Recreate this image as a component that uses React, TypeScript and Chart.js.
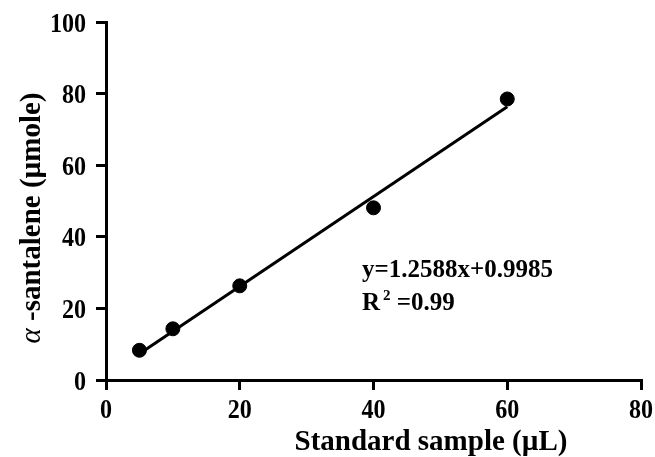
import React, { useEffect, useRef } from "react";
import { Chart, registerables } from "chart.js";

Chart.register(...registerables);

const sampleVolumes = [5, 10, 20, 40, 60];
const santaleneValues = [8.3, 14.3, 26.3, 48.1, 78.5];
const fitX = [5, 60];
const fitY = [7.3, 76.3];
const xTicks = [0, 20, 40, 60, 80];
const yTicks = [0, 20, 40, 60, 80, 100];
const equationText = "y=1.2588x+0.9985";
const r2Value = "=0.99";
const xTitle = "Standard sample (\u00b5L)";
const yTitleGreek = "\u03b1";
const yTitleRest = " -santalene (\u00b5mole)";

const FONT = "'Liberation Serif', 'Times New Roman', serif";
const TICK_SCALE = 0.86;

const textPlugin = {
  id: "texts",
  afterDraw(chart: any) {
    const ctx = chart.ctx;
    const xs = chart.scales.x;
    const ys = chart.scales.y;
    ctx.save();
    ctx.fillStyle = "#000";
    ctx.textBaseline = "alphabetic";
    // tick labels (condensed like the reference)
    ctx.font = `bold 28px ${FONT}`;
    xTicks.forEach((v) => {
      const px = xs.getPixelForValue(v);
      ctx.save();
      ctx.translate(px, 418);
      ctx.scale(TICK_SCALE, 1);
      ctx.textAlign = "center";
      ctx.fillText(String(v), 0, 0);
      ctx.restore();
    });
    yTicks.forEach((v) => {
      const py = ys.getPixelForValue(v);
      ctx.save();
      ctx.translate(86, py + 9.5);
      ctx.scale(TICK_SCALE, 1);
      ctx.textAlign = "right";
      ctx.fillText(String(v), 0, 0);
      ctx.restore();
    });
    ctx.textAlign = "left";
    // equation
    const ex = 362;
    const ey = 277;
    ctx.font = `bold 25px ${FONT}`;
    ctx.fillText(equationText, ex, ey);
    const ry = 310;
    ctx.fillText("R", ex, ry);
    const rw = ctx.measureText("R").width;
    ctx.font = `bold 15px ${FONT}`;
    ctx.fillText("2", ex + rw + 3, ry - 10);
    const sw = ctx.measureText("2").width;
    ctx.font = `bold 25px ${FONT}`;
    ctx.fillText(" " + r2Value, ex + rw + 3 + sw, ry);
    // x title
    ctx.font = `bold 29px ${FONT}`;
    ctx.textAlign = "center";
    ctx.fillText(xTitle, 431, 450);
    // y title
    ctx.textAlign = "left";
    ctx.translate(40, 218);
    ctx.rotate(-Math.PI / 2);
    ctx.font = `italic 29px ${FONT}`;
    const gw = ctx.measureText(yTitleGreek).width;
    ctx.font = `bold 29px ${FONT}`;
    const tw = ctx.measureText(yTitleRest).width;
    const start = -(gw + tw) / 2;
    ctx.font = `italic 29px ${FONT}`;
    ctx.fillText(yTitleGreek, start, 0);
    ctx.font = `bold 29px ${FONT}`;
    ctx.fillText(yTitleRest, start + gw, 0);
    ctx.restore();
  },
};

export default function App() {
  const ref = useRef<HTMLCanvasElement>(null);
  useEffect(() => {
    const chart = new Chart(ref.current!, {
      type: "scatter",
      data: {
        datasets: [
          {
            data: fitX.map((x, i) => ({ x, y: fitY[i] })),
            showLine: true,
            borderColor: "#000",
            borderWidth: 3,
            pointRadius: 0,
            order: 2,
          },
          {
            data: sampleVolumes.map((x, i) => ({ x, y: santaleneValues[i] })),
            backgroundColor: "#000",
            borderColor: "#000",
            pointRadius: 7,
            order: 1,
          },
        ],
      },
      options: {
        animation: false,
        responsive: false,
        events: [],
        layout: { padding: { top: 22, right: 14, left: 0, bottom: 0 } },
        plugins: { legend: { display: false }, tooltip: { enabled: false } },
        scales: {
          x: {
            type: "linear",
            min: 0,
            max: 80,
            afterBuildTicks: (s: any) => {
              s.ticks = xTicks.map((v) => ({ value: v }));
            },
            afterFit: (s: any) => {
              s.height = 77;
            },
            grid: {
              drawOnChartArea: false,
              color: "#000",
              lineWidth: 3,
              tickLength: 10,
            },
            border: { color: "#000", width: 3 },
            ticks: { display: false },
          },
          y: {
            type: "linear",
            min: 0,
            max: 100,
            afterBuildTicks: (s: any) => {
              s.ticks = yTicks.map((v) => ({ value: v }));
            },
            afterFit: (s: any) => {
              s.width = 106;
            },
            grid: {
              drawOnChartArea: false,
              color: "#000",
              lineWidth: 3,
              tickLength: 10,
            },
            border: { color: "#000", width: 3 },
            ticks: { display: false },
          },
        },
      },
      plugins: [textPlugin],
    });
    return () => chart.destroy();
  }, []);
  return (
    <div style={{ position: "fixed", left: 0, top: 0, width: 655, height: 457, background: "#fff" }}>
      <canvas ref={ref} width={655} height={457} />
    </div>
  );
}
